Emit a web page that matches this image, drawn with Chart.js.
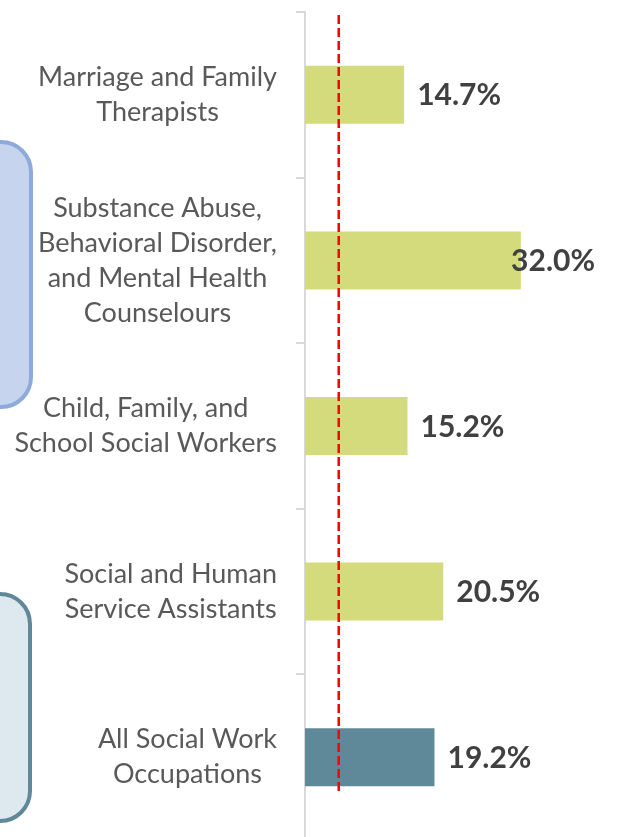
<!DOCTYPE html>
<html>
<head>
<meta charset="utf-8">
<script src="https://cdn.jsdelivr.net/npm/chart.js@4/dist/chart.umd.min.js"></script>
<style>
  html, body { margin: 0; padding: 0; background: #fff; overflow: hidden; }
  .wrap { position: relative; width: 620px; height: 840px; }
  .box { position: absolute; border-radius: 32px; box-sizing: border-box; }
  .box-blue { left: -60px; top: 140px; width: 93px; height: 269px; background: #c7d4ee; border: 4px solid #8eaadb; }
  .box-teal { left: -60px; top: 592px; width: 92px; height: 231px; background: #dde8ef; border: 4px solid #5f8898; }
  canvas { position: absolute; left: 0; top: 0; }
</style>
</head>
<body>
<div class="wrap">
  <div class="box box-blue"></div>
  <div class="box box-teal"></div>
  <canvas id="chart" width="620" height="840"></canvas>
</div>
<script>
const categories = [
    ['Marriage and Family', 'Therapists'],
    ['Substance Abuse,', 'Behavioral Disorder,', 'and Mental Health', 'Counselours'],
    ['Child, Family, and', 'School Social Workers'],
    ['Social and Human', 'Service Assistants'],
    ['All Social Work', 'Occupations'],
];
const growth = [14.7, 32.0, 15.2, 20.5, 19.2];
const barColors = ['#d4db7c', '#d4db7c', '#d4db7c', '#d4db7c', '#5f8898'];
const benchmark = 5.0;

const textColor = '#595959';
const labelColor = '#404040';

// red dashed reference line
const benchmarkLine = {
    id: 'benchmarkLine',
    afterDatasetsDraw(chart) {
        const { ctx, chartArea, scales } = chart;
        const x = scales.x.getPixelForValue(benchmark);
        const yEnd = scales.y.getPixelForValue(categories.length - 1) + 36;
        ctx.save();
        ctx.strokeStyle = '#ff0000';
        ctx.lineWidth = 2.5;
        ctx.setLineDash([9, 4]);
        ctx.beginPath();
        ctx.moveTo(x, chartArea.top + 3);
        ctx.lineTo(x, yEnd);
        ctx.stroke();
        ctx.restore();
    },
};

// category labels: each block centred on itself, block flush right against the axis
const categoryLabels = {
    id: 'categoryLabels',
    afterDraw(chart) {
        const { ctx, scales } = chart;
        const y = scales.y;
        const lineH = 35;
        const rightEdge = y.right - 28;
        ctx.save();
        ctx.font = '27px Lato';
        ctx.fillStyle = textColor;
        ctx.textAlign = 'center';
        ctx.textBaseline = 'middle';
        categories.forEach((lines, i) => {
            const widest = Math.max(...lines.map((l) => ctx.measureText(l).width));
            const cx = rightEdge - widest / 2;
            const cy = y.getPixelForTick(i);
            const top = cy - (lines.length - 1) * lineH / 2;
            lines.forEach((l, j) => ctx.fillText(l, cx, top + j * lineH));
        });
        ctx.restore();
    },
};

// value labels at bar ends
const valueLabels = {
    id: 'valueLabels',
    afterDatasetsDraw(chart) {
        const { ctx, chartArea } = chart;
        const meta = chart.getDatasetMeta(0);
        ctx.save();
        ctx.font = 'bold 30px Lato';
        ctx.fillStyle = labelColor;
        ctx.textBaseline = 'middle';
        meta.data.forEach((bar, i) => {
            const txt = growth[i].toFixed(1) + '%';
            const w = ctx.measureText(txt).width;
            const x = Math.min(bar.x + 13, chartArea.right - w);
            ctx.fillText(txt, x, bar.y + 1);
        });
        ctx.restore();
    },
};

new Chart(document.getElementById('chart'), {
    type: 'bar',
    data: {
        labels: categories,
        datasets: [{
            data: growth,
            backgroundColor: barColors,
            borderWidth: 0,
            barPercentage: 0.35,
            categoryPercentage: 1,
        }],
    },
    options: {
        indexAxis: 'y',
        responsive: false,
        animation: false,
        events: [],
        layout: { padding: { top: 12, right: 25, bottom: 0, left: 0 } },
        plugins: {
            legend: { display: false },
            tooltip: { enabled: false },
        },
        scales: {
            x: {
                display: false,
                min: 0,
                max: 43,
            },
            y: {
                afterFit(scale) {
                    scale.width = 305;
                    scale.paddingTop = 0;
                    scale.paddingBottom = 0;
                },
                grid: {
                    offset: true,
                    drawOnChartArea: false,
                    drawTicks: true,
                    tickLength: 9,
                    color: '#d9d9d9',
                    lineWidth: 2,
                },
                border: { display: true, color: '#d9d9d9', width: 2 },
                ticks: { display: false },
            },
        },
    },
    plugins: [benchmarkLine, valueLabels, categoryLabels],
});
</script>
</body>
</html>
